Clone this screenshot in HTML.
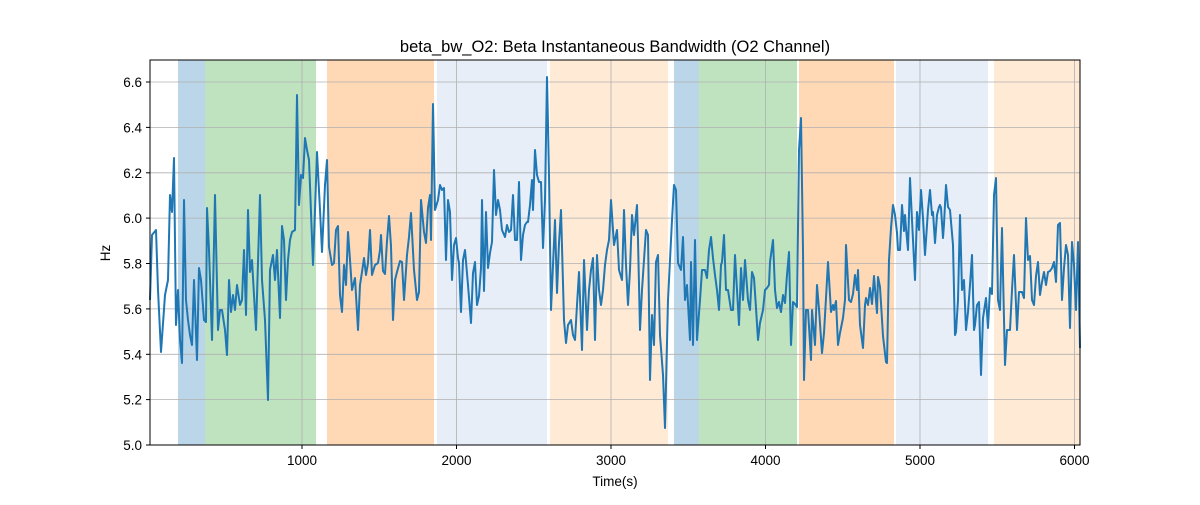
<!DOCTYPE html>
<html><head><meta charset="utf-8"><style>
body{margin:0;background:#fff}
svg text{font-family:"Liberation Sans","DejaVu Sans",sans-serif;fill:#000}
</style></head><body>
<svg width="1200" height="500" xmlns="http://www.w3.org/2000/svg">
<rect width="1200" height="500" fill="#fff"/>
<g>
<rect x="178" y="60" width="27" height="385" fill="#1f77b4" fill-opacity="0.3"/>
<rect x="205" y="60" width="111" height="385" fill="#2ca02c" fill-opacity="0.3"/>
<rect x="327" y="60" width="107" height="385" fill="#ff7f0e" fill-opacity="0.3"/>
<rect x="437" y="60" width="110" height="385" fill="#aec7e8" fill-opacity="0.3"/>
<rect x="550" y="60" width="118" height="385" fill="#ffbb78" fill-opacity="0.3"/>
<rect x="674" y="60" width="25" height="385" fill="#1f77b4" fill-opacity="0.3"/>
<rect x="699" y="60" width="98" height="385" fill="#2ca02c" fill-opacity="0.3"/>
<rect x="799" y="60" width="95" height="385" fill="#ff7f0e" fill-opacity="0.3"/>
<rect x="896" y="60" width="92" height="385" fill="#aec7e8" fill-opacity="0.3"/>
<rect x="994" y="60" width="86" height="385" fill="#ffbb78" fill-opacity="0.3"/>
</g>
<g stroke="#b0b0b0" stroke-width="0.8">
<line x1="302" y1="60" x2="302" y2="445"/><line x1="456.5" y1="60" x2="456.5" y2="445"/><line x1="611" y1="60" x2="611" y2="445"/><line x1="765.5" y1="60" x2="765.5" y2="445"/><line x1="920" y1="60" x2="920" y2="445"/><line x1="1074.5" y1="60" x2="1074.5" y2="445"/>
<line x1="150" y1="399.6" x2="1080" y2="399.6"/><line x1="150" y1="354.3" x2="1080" y2="354.3"/><line x1="150" y1="308.9" x2="1080" y2="308.9"/><line x1="150" y1="263.5" x2="1080" y2="263.5"/><line x1="150" y1="218.1" x2="1080" y2="218.1"/><line x1="150" y1="172.8" x2="1080" y2="172.8"/><line x1="150" y1="127.4" x2="1080" y2="127.4"/><line x1="150" y1="82" x2="1080" y2="82"/>
</g>
<polyline fill="none" stroke="#1f77b4" stroke-width="2" stroke-linejoin="round" points="150,300 152,235 156,230 158,290 161,352 165,295 168,280 170,195 172,212 174,158 176,325 178,290 180,340 182,363 184,200 186,300 188,320 190,335 192,345 194,280 197,360 199,268 201,280 204,320 206,322 207,208 209,250 212,340 215,195 218,330 220,310 222,310 225,330 227,355 229,280 231,312 233,295 235,310 237,285 240,305 242,300 244,250 246,315 248,210 250,272 252,260 256,330 260,195 262,280 265,320 268,400 270,270 273,255 275,280 277,250 280,318 282,226 284,240 286,300 288,260 290,240 292,232 295,230 297,95 299,205 301,175 303,178 305,138 307,150 309,160 313,265 315,210 317,152 320,210 322,252 325,185 327,160 329,247 332,265 334,263 336,230 338,226 340,295 342,312 344,265 346,285 348,232 350,260 352,290 355,278 358,330 360,285 362,272 364,258 366,275 368,263 370,230 372,275 375,265 378,263 380,250 381,235 383,271 385,274 387,241 389,216 391,246 393,320 395,280 397,272 400,261 402,262 404,300 407,255 409,237 411,213 414,270 417,300 419,292 421,200 424,232 426,243 428,208 430,195 431,240 433,104 435,210 438,200 440,185 442,190 444,188 446,260 448,200 450,212 452,280 454,245 456,238 458,258 459,263 461,312 463,260 465,250 468,285 471,323 473,273 475,262 477,305 479,296 481,268 482,200 484,291 486,212 488,268 490,253 492,242 494,170 496,215 498,200 500,210 502,230 505,237 507,225 509,232 511,230 513,195 515,240 517,240 519,182 521,260 523,235 525,225 527,222 528,222 530,205 532,180 533,210 535,150 537,175 539,182 541,182 543,248 545,200 547,77 549,175 551,310 553,265 555,220 557,293 559,243 561,210 564,320 566,343 568,325 571,320 573,335 575,340 577,305 579,272 582,350 584,260 587,330 589,290 591,270 593,258 595,340 597,255 599,290 601,305 603,290 605,265 607,250 609,240 611,200 614,245 617,230 619,270 622,280 624,210 626,265 628,305 630,270 632,215 634,235 637,205 638,240 640,330 642,290 644,260 646,230 648,235 650,380 652,315 654,345 656,262 658,255 660,335 663,375 665,428 668,300 670,260 672,220 674,185 676,190 678,263 681,270 683,237 685,300 687,285 690,340 691,262 693,345 695,240 697,340 700,300 702,270 705,270 707,278 709,250 711,237 713,258 715,275 717,290 719,310 721,265 722,262 724,235 726,290 728,290 731,310 733,310 735,255 737,290 739,325 741,268 743,300 745,260 748,300 750,310 752,272 754,278 756,308 758,340 760,323 763,310 765,290 767,288 769,285 770,262 773,240 775,290 777,308 779,302 781,312 783,295 785,303 787,275 789,252 791,345 793,302 795,304 797,307 799,150 801,118 803,250 804,380 806,310 808,310 811,360 812,310 815,345 817,285 819,309 822,353 824,333 826,298 828,262 830,295 831,312 833,305 834,310 836,301 838,345 840,333 843,318 845,300 846,245 849,300 851,302 853,294 855,275 857,290 858,270 860,325 863,348 865,305 866,298 868,305 870,288 872,304 874,276 877,313 878,277 880,287 883,336 886,362 887,363 889,260 891,228 893,205 895,215 897,233 898,250 900,250 902,205 904,231 905,215 906,228 908,250 910,178 912,220 915,280 917,212 919,230 921,190 923,218 925,255 928,210 930,190 932,215 933,212 935,243 937,215 939,207 940,205 941,208 943,238 944,224 946,185 948,207 950,210 953,245 955,335 956,332 958,300 960,215 962,290 964,280 966,330 968,312 970,285 972,255 974,330 975,325 977,305 979,302 981,375 983,318 986,298 988,328 990,288 992,294 994,195 996,178 998,300 1000,310 1002,228 1005,365 1007,330 1010,330 1012,290 1014,255 1017,330 1019,292 1022,292 1024,298 1026,218 1028,260 1030,256 1032,300 1034,305 1036,276 1038,262 1040,295 1042,282 1044,272 1046,285 1048,272 1050,271 1052,268 1054,262 1056,282 1058,225 1060,223 1062,300 1064,268 1066,245 1068,255 1070,328 1072,242 1074,265 1076,310 1078,242 1080,348"/>
<rect x="150" y="60" width="930" height="385" fill="none" stroke="#000" stroke-width="1"/>
<g stroke="#000" stroke-width="1">
<line x1="302" y1="445" x2="302" y2="449"/><line x1="456.5" y1="445" x2="456.5" y2="449"/><line x1="611" y1="445" x2="611" y2="449"/><line x1="765.5" y1="445" x2="765.5" y2="449"/><line x1="920" y1="445" x2="920" y2="449"/><line x1="1074.5" y1="445" x2="1074.5" y2="449"/>
<line x1="146" y1="445" x2="150" y2="445"/><line x1="146" y1="399.6" x2="150" y2="399.6"/><line x1="146" y1="354.3" x2="150" y2="354.3"/><line x1="146" y1="308.9" x2="150" y2="308.9"/><line x1="146" y1="263.5" x2="150" y2="263.5"/><line x1="146" y1="218.1" x2="150" y2="218.1"/><line x1="146" y1="172.8" x2="150" y2="172.8"/><line x1="146" y1="127.4" x2="150" y2="127.4"/><line x1="146" y1="82" x2="150" y2="82"/>
</g>
<g font-size="13.5" text-anchor="middle">
<text x="302" y="465">1000</text><text x="456.5" y="465">2000</text><text x="611" y="465">3000</text><text x="765.5" y="465">4000</text><text x="920" y="465">5000</text><text x="1074.5" y="465">6000</text>
</g>
<g font-size="13.5" text-anchor="end">
<text x="142" y="450">5.0</text><text x="142" y="404.6">5.2</text><text x="142" y="359.3">5.4</text><text x="142" y="313.9">5.6</text><text x="142" y="268.5">5.8</text><text x="142" y="223.1">6.0</text><text x="142" y="177.8">6.2</text><text x="142" y="132.4">6.4</text><text x="142" y="87">6.6</text>
</g>
<text x="615" y="486" font-size="13.5" text-anchor="middle">Time(s)</text>
<text x="110" y="253" font-size="13.5" text-anchor="middle" transform="rotate(-90 110 253)">Hz</text>
<text x="615" y="52" font-size="16.5" text-anchor="middle">beta_bw_O2: Beta Instantaneous Bandwidth (O2 Channel)</text>
</svg>
</body></html>
